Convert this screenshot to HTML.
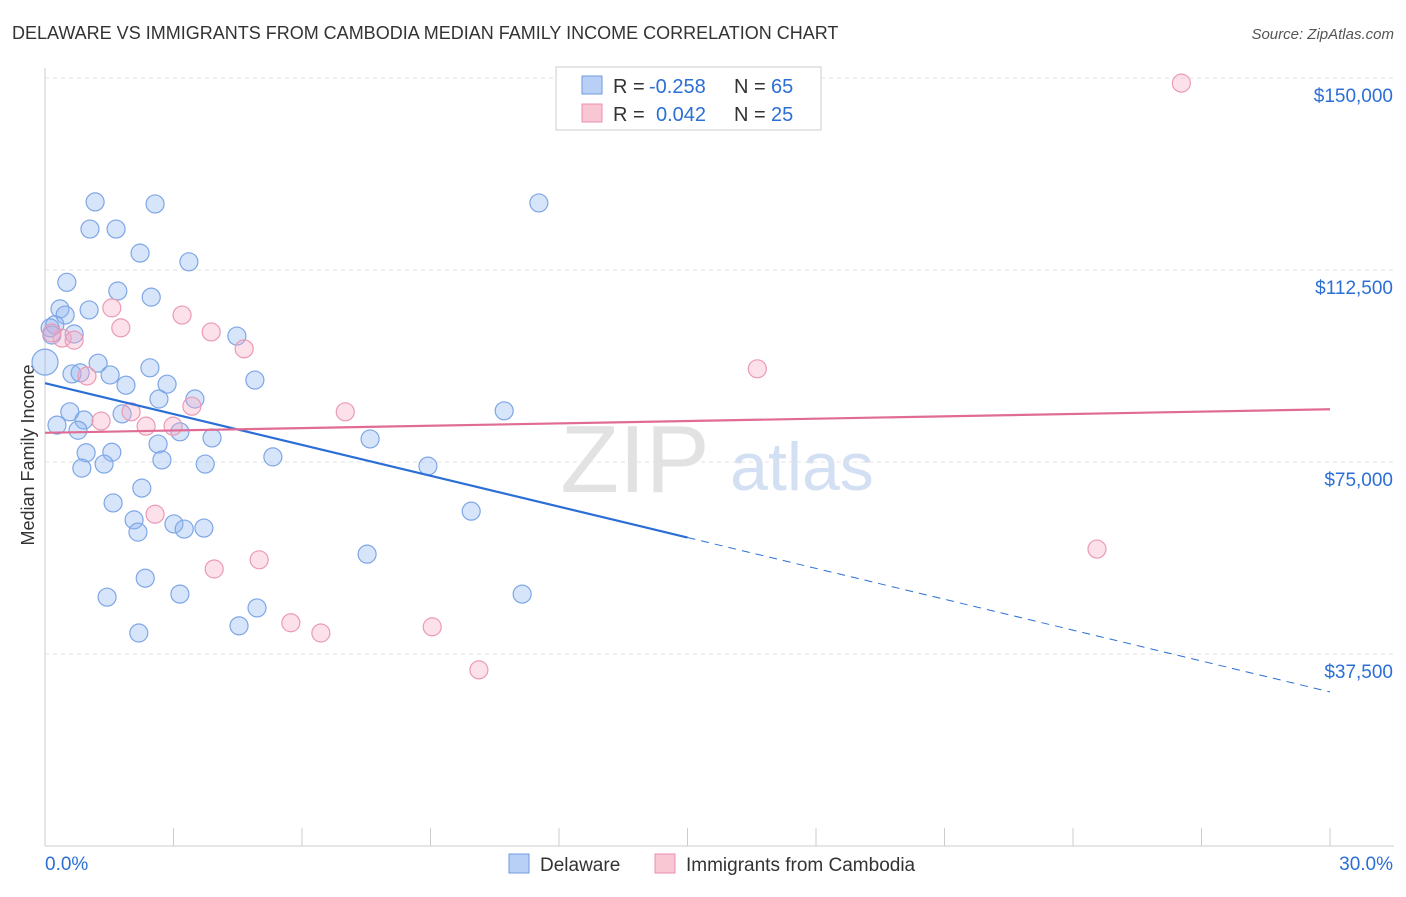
<!DOCTYPE html>
<html><head><meta charset="utf-8"><style>
body{margin:0;background:#fff;font-family:"Liberation Sans",sans-serif}
svg text{font-family:"Liberation Sans",sans-serif}
</style></head><body>
<svg id="c" width="1406" height="892" xmlns="http://www.w3.org/2000/svg">
<text x="12" y="39" font-size="18" fill="#333">DELAWARE VS IMMIGRANTS FROM CAMBODIA MEDIAN FAMILY INCOME CORRELATION CHART</text>
<text x="1394" y="39" font-size="15" fill="#555" text-anchor="end" font-style="italic">Source: ZipAtlas.com</text>
<text x="635" y="492" font-size="96" fill="#e2e2e2" font-family="Liberation Serif" text-anchor="middle">ZIP</text>
<text x="802" y="490" font-size="68" fill="#d3e0f3" text-anchor="middle">atlas</text>
<text transform="translate(34,455) rotate(-90)" font-size="18" fill="#333" text-anchor="middle">Median Family Income</text>
<g id="grid"></g><g id="marks"></g>
<g>
<rect x="556" y="67" width="265" height="63" fill="#fff" stroke="#ccc"/>
<rect x="582" y="76" width="20" height="18" fill="#b8d0f5" stroke="#6f9be0"/>
<rect x="582" y="104" width="20" height="18" fill="#f9c6d4" stroke="#ec8fae"/>
<text x="613" y="93" font-size="20" fill="#333">R =</text>
<text x="649" y="93" font-size="20" fill="#2b6fd6">-0.258</text>
<text x="734" y="93" font-size="20" fill="#333">N =</text>
<text x="771" y="93" font-size="20" fill="#2b6fd6">65</text>
<text x="613" y="121" font-size="20" fill="#333">R =</text>
<text x="656" y="121" font-size="20" fill="#2b6fd6">0.042</text>
<text x="734" y="121" font-size="20" fill="#333">N =</text>
<text x="771" y="121" font-size="20" fill="#2b6fd6">25</text>
</g>
<g>
<rect x="509" y="854" width="20" height="19" fill="#b8d0f5" stroke="#6f9be0"/>
<text x="540" y="871" font-size="19" fill="#333">Delaware</text>
<rect x="655" y="854" width="20" height="19" fill="#f9c6d4" stroke="#ec8fae"/>
<text x="686" y="871" font-size="19" fill="#333">Immigrants from Cambodia</text>
</g>
</svg>
<script>
const yTicks=[37500,75000,112500,150000];
const yTickLabels=["$37,500","$75,000","$112,500","$150,000"];
const blueX=[0,1.17,2.57,1.05,1.66,2.22,3.36,0.51,1.70,2.48,0.35,1.03,0.47,0.23,0.16,0.68,4.48,1.24,2.45,0.63,0.82,1.52,4.90,1.89,2.85,3.50,2.66,0.58,1.80,0.91,0.28,0.77,3.15,3.90,2.64,7.59,0.96,1.56,5.32,2.73,0.86,1.38,3.74,8.94,10.72,11.53,2.26,1.59,2.08,3.01,3.25,3.71,2.17,9.95,7.52,2.34,1.45,3.15,11.14,4.95,4.53,2.19,0.12];
const blueY=[94.5,125.8,125.4,120.5,120.5,115.8,114.1,110.1,108.4,107.2,104.9,104.7,103.7,101.8,99.8,100.0,99.6,94.3,93.4,92.2,92.4,92.0,91.0,90.0,90.2,87.3,87.3,84.8,84.4,83.2,82.2,81.2,80.9,79.7,78.5,79.5,76.8,76.9,76.0,75.4,73.8,74.6,74.6,74.2,85.0,125.6,69.9,67.0,63.7,62.9,61.9,62.1,61.3,65.4,57.0,52.3,48.6,49.2,49.2,46.5,43.0,41.6,101.2];
const pinkX=[26.53,1.56,3.20,1.77,3.88,0.40,0.68,0.16,4.65,16.63,0.98,3.43,7.01,2.01,1.31,2.36,2.99,2.57,5.00,3.95,5.74,6.44,9.04,10.13,24.56];
const pinkY=[149.0,105.1,103.7,101.2,100.4,99.2,98.8,100.2,97.1,93.2,91.8,85.9,84.8,84.8,83.0,82.0,82.0,64.8,55.9,54.1,43.6,41.6,42.8,34.4,58.0];
const blueTrend=[90.4,30.1];
const pinkTrend=[80.7,85.3];
const xs=v=>45+v/30*1285;
const ys=v=>846-v/37500*192;
const NS="http://www.w3.org/2000/svg";
function mk(t,a,p){const e=document.createElementNS(NS,t);for(const k in a)e.setAttribute(k,a[k]);p.appendChild(e);return e;}
const g=document.getElementById('grid'),m=document.getElementById('marks');
yTicks.forEach((t,i)=>{
 const l=mk('line',{x1:45,x2:1394,y1:ys(t),y2:ys(t),stroke:'#e3e3e3','stroke-dasharray':'4,4'},g);
 
 
 const tx=mk('text',{x:1393,y:ys(t)+24,'font-size':19,fill:'#2b6fd6','text-anchor':'end'},g);
 tx.textContent=yTickLabels[i];
 
 
});
mk('line',{x1:45,x2:45,y1:68,y2:846,stroke:'#ccc'},g);
mk('line',{x1:45,x2:1394,y1:846,y2:846,stroke:'#ccc'},g);
for(let i=0;i<=10;i++){const l=mk('line',{x1:xs(i*3),x2:xs(i*3),y1:828,y2:846,stroke:'#ccc'},g);
 
 }
let t1=mk('text',{x:45,y:870,'font-size':19,fill:'#2b6fd6'},g);t1.textContent='0.0%';


let t2=mk('text',{x:1393,y:870,'font-size':19,fill:'#2b6fd6','text-anchor':'end'},g);t2.textContent='30.0%';


blueX.forEach((x,i)=>{const c=mk('circle',{cx:xs(x),cy:ys(blueY[i]*1000),r:i==0?13:9,fill:'rgba(140,180,240,0.35)',stroke:'#7ea6e6','stroke-width':1.2},m);
 
 });
pinkX.forEach((x,i)=>{const c=mk('circle',{cx:xs(x),cy:ys(pinkY[i]*1000),r:9,fill:'rgba(245,170,195,0.35)',stroke:'#eb9ab5','stroke-width':1.2},m);
 
 });
const bAt=x=>blueTrend[0]+(blueTrend[1]-blueTrend[0])*x/30;
let b1=mk('line',{x1:xs(0),y1:ys(bAt(0)*1000),x2:xs(15),y2:ys(bAt(15)*1000),stroke:'#2b6fd6','stroke-width':2.2},m);


let b2=mk('line',{x1:xs(15),y1:ys(bAt(15)*1000),x2:xs(30),y2:ys(bAt(30)*1000),stroke:'#2b6fd6','stroke-width':1,'stroke-dasharray':'8,6'},m);


let p1=mk('line',{x1:xs(0),y1:ys(pinkTrend[0]*1000),x2:xs(30),y2:ys(pinkTrend[1]*1000),stroke:'#e06b95','stroke-width':2.2},m);


</script>
</body></html>
